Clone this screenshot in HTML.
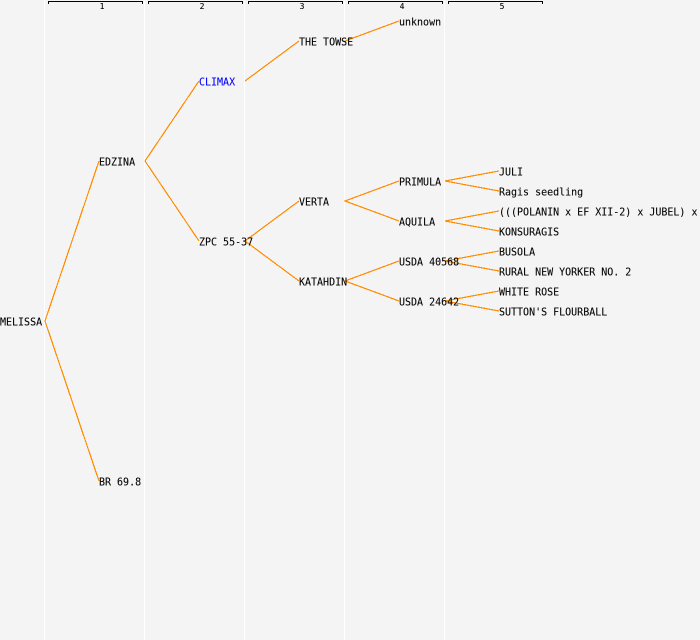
<!DOCTYPE html>
<html><head><meta charset="utf-8"><style>
html,body{margin:0;padding:0;background:#f4f4f4;width:700px;height:640px;overflow:hidden}
svg{display:block}
text{font-family:"DejaVu Sans Mono","Liberation Mono",monospace;font-size:10px;fill:#000;stroke:#000;stroke-width:.08px}
.n{font-size:8px;text-anchor:middle}
</style></head><body>
<svg width="700" height="640" viewBox="0 0 700 640" xmlns="http://www.w3.org/2000/svg">
<rect width="700" height="640" fill="#f4f4f4"/>
<g fill="#fff" shape-rendering="crispEdges">
<rect x="44" y="0" width="1" height="640"/><rect x="144" y="0" width="1" height="640"/><rect x="244" y="0" width="1" height="640"/><rect x="344" y="0" width="1" height="640"/><rect x="444" y="0" width="1" height="640"/>
</g>
<g fill="none" stroke="#000" shape-rendering="crispEdges">
<path d="M48.500 4V1.500H142.500V4"/><path d="M148.500 4V1.500H242.500V4"/><path d="M248.500 4V1.500H342.500V4"/><path d="M348.500 4V1.500H442.500V4"/><path d="M448.500 4V1.500H542.500V4"/>
</g>
<g>
<text class="n" x="102" y="9">1</text><text class="n" x="202" y="9">2</text><text class="n" x="302" y="9">3</text><text class="n" x="402" y="9">4</text><text class="n" x="502" y="9">5</text>
</g>
<g fill="none" stroke="#ff8c00" stroke-width="1.2" shape-rendering="crispEdges">
<path d="M99 161L45 321L99 481"/>
<path d="M199 81L145 161L199 241"/>
<path d="M299 41L245 81"/>
<path d="M299 201L245 241L299 281"/>
<path d="M399 21L345 41"/>
<path d="M399 181L345 201L399 221"/>
<path d="M399 261L345 281L399 301"/>
<path d="M499 171L445 181L499 191"/>
<path d="M499 211L445 221L499 231"/>
<path d="M499 251L445 261L499 271"/>
<path d="M499 291L445 301L499 311"/>
</g>
<text transform="translate(0,325.500) scale(1,1.1)">MELISSA</text>
<text transform="translate(99,165.500) scale(1,1.1)">EDZINA</text>
<text transform="translate(99,485.500) scale(1,1.1)">BR 69.8</text>
<text transform="translate(199,85.500) scale(1,1.1)" style="fill:#0000ff;stroke:#0000ff">CLIMAX</text>
<text transform="translate(199,245.500) scale(1,1.1)">ZPC 55-37</text>
<text transform="translate(299,45.500) scale(1,1.1)">THE TOWSE</text>
<text transform="translate(299,205.500) scale(1,1.1)">VERTA</text>
<text transform="translate(299,285.500) scale(1,1.1)">KATAHDIN</text>
<text transform="translate(399,25.500) scale(1,1.1)">unknown</text>
<text transform="translate(399,185.500) scale(1,1.1)">PRIMULA</text>
<text transform="translate(399,225.500) scale(1,1.1)">AQUILA</text>
<text transform="translate(399,265.500) scale(1,1.1)">USDA 40568</text>
<text transform="translate(399,305.500) scale(1,1.1)">USDA 24642</text>
<text transform="translate(499,175.500) scale(1,1.1)">JULI</text>
<text transform="translate(499,195.500) scale(1,1.1)">Ragis seedling</text>
<text transform="translate(499,215.500) scale(1,1.1)">(((POLANIN x EF XII-2) x JUBEL) x</text>
<text transform="translate(499,235.500) scale(1,1.1)">KONSURAGIS</text>
<text transform="translate(499,255.500) scale(1,1.1)">BUSOLA</text>
<text transform="translate(499,275.500) scale(1,1.1)">RURAL NEW YORKER NO. 2</text>
<text transform="translate(499,295.500) scale(1,1.1)">WHITE ROSE</text>
<text transform="translate(499,315.500) scale(1,1.1)">SUTTON'S FLOURBALL</text>
</svg>
</body></html>
